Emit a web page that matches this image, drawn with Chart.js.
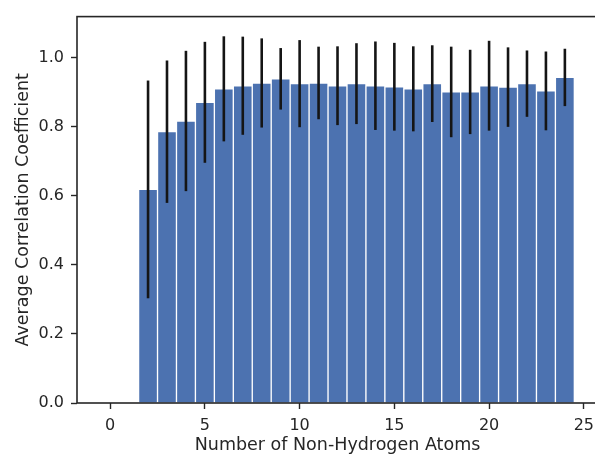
<!DOCTYPE html>
<html>
<head>
<meta charset="utf-8">
<script src="https://cdn.jsdelivr.net/npm/chart.js@4/dist/chart.umd.min.js"></script>
<style>
  html, body { margin: 0; padding: 0; background: #fff; overflow: hidden; }
  canvas { display: block; }
</style>
</head>
<body>
<canvas id="myChart" width="601" height="457"></canvas>
<script>
// atom counts and mean correlation per count, with standard deviation
var atoms = [2, 3, 4, 5, 6, 7, 8, 9, 10, 11, 12, 13, 14, 15, 16, 17, 18, 19, 20, 21, 22, 23, 24];
var meanCorr = [0.618, 0.785, 0.816, 0.870, 0.909, 0.918, 0.926, 0.938, 0.924, 0.926, 0.918, 0.924,
                0.918, 0.915, 0.909, 0.924, 0.900, 0.900, 0.918, 0.914, 0.924, 0.903, 0.942];
var stdCorr = [0.315, 0.206, 0.203, 0.175, 0.152, 0.142, 0.129, 0.089, 0.126, 0.105, 0.114, 0.117,
               0.128, 0.127, 0.123, 0.111, 0.131, 0.122, 0.130, 0.115, 0.096, 0.114, 0.083];
var xTicks = [0, 5, 10, 15, 20, 25];
var yTicks = [0, 0.2, 0.4, 0.6, 0.8, 1.0];

var ink = '#262626';
var font = { family: 'DejaVu Sans', size: 16 };
var titleFont = { family: 'DejaVu Sans', size: 17.5 };

var points = atoms.map(function (a, i) {
    return { x: a, y: meanCorr[i] };
});

// error bars and the box around the plot
var extras = {
    id: 'extras',
    afterDatasetsDraw: function (chart) {
        var c = chart.ctx, xs = chart.scales.x, ys = chart.scales.y;
        c.save();
        c.strokeStyle = '#151515';
        c.lineWidth = 2.6;
        for (var i = 0; i < atoms.length; i++) {
            var px = xs.getPixelForValue(atoms[i]);
            c.beginPath();
            c.moveTo(px, ys.getPixelForValue(meanCorr[i] - stdCorr[i]));
            c.lineTo(px, ys.getPixelForValue(meanCorr[i] + stdCorr[i]));
            c.stroke();
        }
        var a = chart.chartArea;
        c.strokeStyle = ink;
        c.lineWidth = 1.6;
        c.strokeRect(a.left, a.top, a.right - a.left, a.bottom - a.top);
        c.restore();
    }
};

var ctx = document.getElementById('myChart').getContext('2d');
var myChart = new Chart(ctx, {
    type: 'bar',
    data: {
        datasets: [{
            data: points,
            backgroundColor: '#4c72b0',
            borderColor: '#ffffff',
            borderWidth: 1,
            barPercentage: 1,
            categoryPercentage: 1
        }]
    },
    options: {
        responsive: false,
        animation: false,
        layout: { padding: { top: 14, right: 0, left: 0, bottom: 0 } },
        plugins: { legend: false, tooltip: false },
        scales: {
            x: {
                type: 'linear',
                offset: false,
                min: -1.75,
                max: 25.75,
                afterBuildTicks: function (s) { s.ticks = xTicks.map(function (v) { return { value: v }; }); },
                afterFit: function (s) { s.height = 54; },
                grid: { offset: false, drawOnChartArea: false, tickLength: 6, tickWidth: 1.4, tickColor: ink },
                border: { display: false },
                ticks: { color: ink, font: font, padding: 7, maxRotation: 0 },
                title: { display: true, text: 'Number of Non-Hydrogen Atoms', color: ink,
                         font: titleFont, padding: { top: 0, bottom: 1 } }
            },
            y: {
                min: 0,
                max: 1.118,
                afterBuildTicks: function (s) { s.ticks = yTicks.map(function (v) { return { value: v }; }); },
                afterFit: function (s) { s.width = 77; },
                grid: { drawOnChartArea: false, tickLength: 6, tickWidth: 1.4, tickColor: ink },
                border: { display: false },
                ticks: { color: ink, font: font, padding: 7,
                         callback: function (v) { return v.toFixed(1); } },
                title: { display: true, text: 'Average Correlation Coefficient', color: ink,
                         font: titleFont, padding: { top: 13, bottom: 0 } }
            }
        }
    },
    plugins: [extras]
});
</script>
</body>
</html>
